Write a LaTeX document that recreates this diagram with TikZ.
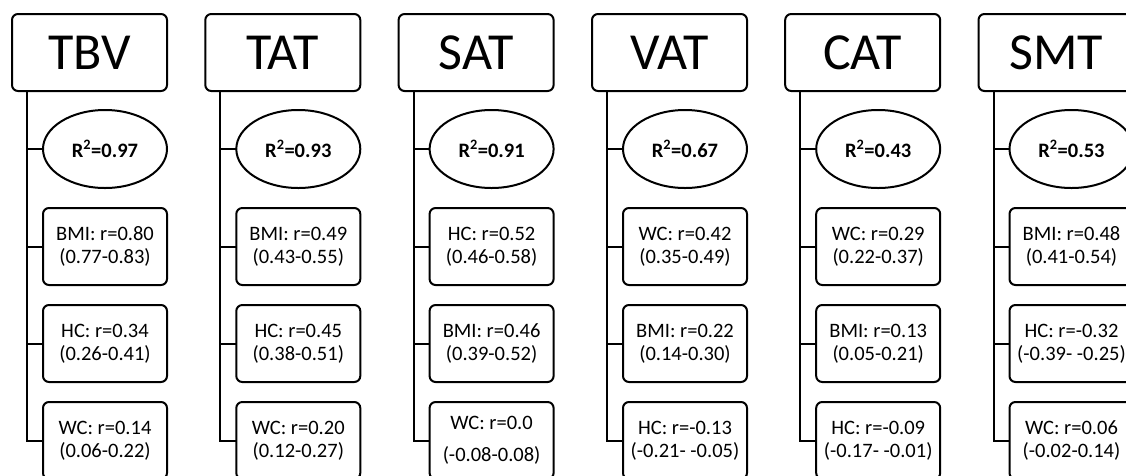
\documentclass[tikz,border=0pt]{standalone}
\usepackage{fontspec}
\setmainfont{Carlito}
\usetikzlibrary{shapes.geometric, positioning}
\tikzstyle{head} = [rectangle, rounded corners=6pt, minimum width=155pt, minimum height=77pt, text centered, draw=black, line width=2pt, outer sep=0pt, inner sep=0pt, font=\fontsize{52}{56}\selectfont]
\tikzstyle{rsq} = [ellipse, minimum width=124pt, minimum height=78pt, text centered, draw=black, line width=2pt, outer sep=0pt, inner sep=0pt, font=\bfseries\fontsize{20.5}{24}\selectfont]
\tikzstyle{est} = [rectangle, rounded corners=6pt, minimum width=124pt, minimum height=77pt, align=center, draw=black, line width=2pt, outer sep=0pt, inner sep=0pt, font=\fontsize{20.5}{23}\selectfont]
\tikzstyle{link} = [line width=2pt]

\begin{document}
\begin{tikzpicture}[x=1pt, y=-1pt, node distance=20pt]
      \useasboundingbox (0,0) rectangle (1126,475);

      % TBV
      \node (tbv) [head] at (89.5,52.5) {TBV};
      \node (tbvrsq) [rsq, below=19pt of tbv.south, xshift=15.5pt] {R\textsuperscript{2}=0.97};
      \node (tbva) [est, below=of tbvrsq] {BMI: r=0.80\\(0.77-0.83)};
      \node (tbvb) [est, below=of tbva] {HC: r=0.34\\(0.26-0.41)};
      \node (tbvc) [est, below=of tbvb] {WC: r=0.14\\(0.06-0.22)};
      \coordinate (tbvtrunk) at ([xshift=15pt]tbv.south west);
      \draw [link] (tbvtrunk) |- (tbvc);
      \draw [link] (tbvtrunk |- tbvrsq) -- (tbvrsq);
      \draw [link] (tbvtrunk |- tbva) -- (tbva);
      \draw [link] (tbvtrunk |- tbvb) -- (tbvb);

      % TAT
      \node (tat) [head] at (282.8,52.5) {TAT};
      \node (tatrsq) [rsq, below=19pt of tat.south, xshift=15.5pt] {R\textsuperscript{2}=0.93};
      \node (tata) [est, below=of tatrsq] {BMI: r=0.49\\(0.43-0.55)};
      \node (tatb) [est, below=of tata] {HC: r=0.45\\(0.38-0.51)};
      \node (tatc) [est, below=of tatb] {WC: r=0.20\\(0.12-0.27)};
      \coordinate (tattrunk) at ([xshift=15pt]tat.south west);
      \draw [link] (tattrunk) |- (tatc);
      \draw [link] (tattrunk |- tatrsq) -- (tatrsq);
      \draw [link] (tattrunk |- tata) -- (tata);
      \draw [link] (tattrunk |- tatb) -- (tatb);

      % SAT
      \node (sat) [head] at (476.1,52.5) {SAT};
      \node (satrsq) [rsq, below=19pt of sat.south, xshift=15.5pt] {R\textsuperscript{2}=0.91};
      \node (sata) [est, below=of satrsq] {HC: r=0.52\\(0.46-0.58)};
      \node (satb) [est, below=of sata] {BMI: r=0.46\\(0.39-0.52)};
      \node (satc) [est, below=of satb] {WC: r=0.0\\[9pt](-0.08-0.08)};
      \coordinate (sattrunk) at ([xshift=15pt]sat.south west);
      \draw [link] (sattrunk) |- (satc);
      \draw [link] (sattrunk |- satrsq) -- (satrsq);
      \draw [link] (sattrunk |- sata) -- (sata);
      \draw [link] (sattrunk |- satb) -- (satb);

      % VAT
      \node (vat) [head] at (669.5,52.5) {VAT};
      \node (vatrsq) [rsq, below=19pt of vat.south, xshift=15.5pt] {R\textsuperscript{2}=0.67};
      \node (vata) [est, below=of vatrsq] {WC: r=0.42\\(0.35-0.49)};
      \node (vatb) [est, below=of vata] {BMI: r=0.22\\(0.14-0.30)};
      \node (vatc) [est, below=of vatb] {HC: r=-0.13\\(-0.21- -0.05)};
      \coordinate (vattrunk) at ([xshift=15pt]vat.south west);
      \draw [link] (vattrunk) |- (vatc);
      \draw [link] (vattrunk |- vatrsq) -- (vatrsq);
      \draw [link] (vattrunk |- vata) -- (vata);
      \draw [link] (vattrunk |- vatb) -- (vatb);

      % CAT
      \node (cat) [head] at (862.7,52.5) {CAT};
      \node (catrsq) [rsq, below=19pt of cat.south, xshift=15.5pt] {R\textsuperscript{2}=0.43};
      \node (cata) [est, below=of catrsq] {WC: r=0.29\\(0.22-0.37)};
      \node (catb) [est, below=of cata] {BMI: r=0.13\\(0.05-0.21)};
      \node (catc) [est, below=of catb] {HC: r=-0.09\\(-0.17- -0.01)};
      \coordinate (cattrunk) at ([xshift=15pt]cat.south west);
      \draw [link] (cattrunk) |- (catc);
      \draw [link] (cattrunk |- catrsq) -- (catrsq);
      \draw [link] (cattrunk |- cata) -- (cata);
      \draw [link] (cattrunk |- catb) -- (catb);

      % SMT
      \node (smt) [head] at (1056,52.5) {SMT};
      \node (smtrsq) [rsq, below=19pt of smt.south, xshift=15.5pt] {R\textsuperscript{2}=0.53};
      \node (smta) [est, below=of smtrsq] {BMI: r=0.48\\(0.41-0.54)};
      \node (smtb) [est, below=of smta] {HC: r=-0.32\\(-0.39- -0.25)};
      \node (smtc) [est, below=of smtb] {WC: r=0.06\\(-0.02-0.14)};
      \coordinate (smttrunk) at ([xshift=15pt]smt.south west);
      \draw [link] (smttrunk) |- (smtc);
      \draw [link] (smttrunk |- smtrsq) -- (smtrsq);
      \draw [link] (smttrunk |- smta) -- (smta);
      \draw [link] (smttrunk |- smtb) -- (smtb);
    \end{tikzpicture}
\end{document}
